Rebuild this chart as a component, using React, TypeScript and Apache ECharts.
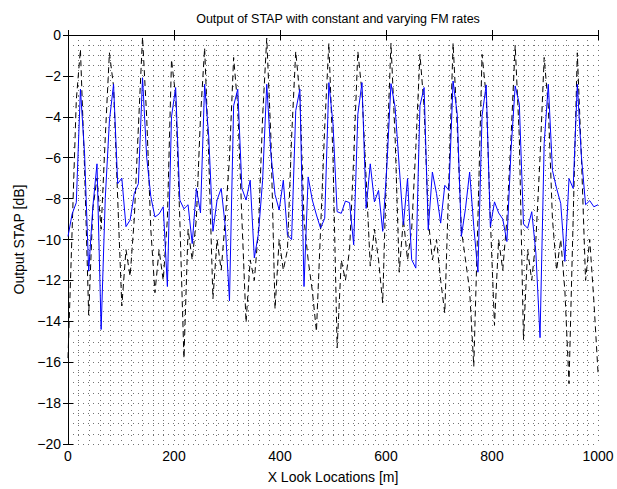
import React, { useEffect, useRef } from "react";
import * as echarts from "echarts";

// X look locations: 0..1000 m, evenly sampled
const xMin = 0;
const xMax = 1000;
const sampleCount = 129;

const xTickStep = 200;
const yTickStep = 2;
const yMin = -20;
const yMax = 0;

// Output STAP [dB], constant FM rate (black dashed)
const constantFmDb = [
  -15.8, -9.5, -3.2, -0.7, -6.5, -13.7, -8.5, -7.0, -9.5, -5.0,
  -0.87, -2.5, -8.0, -13.25, -10.5, -11.8, -9.0, -4.5, -0.1, -4.0,
  -9.5, -12.6, -10.5, -12.0, -9.0, -1.2, -3.0, -9.0, -15.8, -9.5,
  -11.0, -9.0, -4.0, -0.63, -6.0, -12.9, -10.0, -11.5, -9.0, -6.0,
  -1.1, -3.5, -9.0, -14.06, -11.0, -12.0, -9.5, -4.0, -0.15, -5.0,
  -13.4, -10.0, -11.5, -10.5, -5.0, -0.8, -3.0, -9.0, -11.0, -12.5,
  -14.5, -9.5, -4.5, -0.4, -6.0, -15.3, -11.0, -12.0, -10.5, -6.0,
  -0.8, -2.8, -7.0, -11.3, -9.5, -11.0, -13.1, -6.0, -0.4, -5.0,
  -11.6, -9.0, -11.0, -9.5, -5.5, -0.95, -3.5, -9.0, -11.0, -10.0,
  -12.0, -13.6, -7.0, -0.4, -4.5, -9.5, -11.0, -12.5, -16.2, -9.0,
  -0.95, -3.0, -9.0, -14.2, -10.0, -11.5, -9.0, -5.0, -0.5, -5.0,
  -14.9, -10.5, -12.0, -10.0, -6.0, -1.1, -3.5, -9.0, -11.5, -10.0,
  -12.5, -17.05, -9.0, -0.87, -6.0, -12.0, -10.0, -13.0, -16.5,
];

// Output STAP [dB], varying FM rate (blue solid)
const varyingFmDb = [
  -9.85, -8.75, -8.2, -2.65, -5.8, -11.55, -8.4, -6.3, -14.4, -8.0,
  -4.2, -2.41, -7.27, -7.0, -9.37, -9.05, -7.75, -7.27, -2.09, -5.97,
  -7.9, -8.9, -8.75, -8.4, -12.3, -4.0, -2.57, -8.07, -8.5, -8.3,
  -10.2, -7.5, -8.7, -2.41, -5.0, -9.6, -8.07, -7.5, -9.4, -13.0,
  -3.46, -2.65, -7.5, -8.07, -7.1, -10.9, -9.7, -7.1, -2.41, -5.8,
  -7.8, -8.56, -7.1, -9.77, -10.0, -3.7, -2.65, -12.3, -6.94, -8.07,
  -8.8, -9.45, -8.96, -2.33, -4.35, -8.64, -8.72, -8.12, -8.2, -10.26,
  -3.87, -2.33, -8.48, -6.3, -8.16, -7.6, -9.6, -6.46, -2.38, -3.54,
  -6.46, -9.29, -7.02, -10.99, -11.4, -3.46, -2.57, -9.53, -6.7, -7.75,
  -9.2, -7.35, -7.6, -2.25, -3.87, -9.85, -8.48, -6.7, -9.37, -11.6,
  -3.95, -2.44, -9.37, -8.16, -8.7, -9.0, -10.1, -5.6, -2.49, -3.38,
  -9.24, -9.45, -8.64, -10.66, -14.8, -5.3, -2.41, -6.62, -7.5, -8.24,
  -11.07, -7.02, -7.5, -2.41, -5.97, -8.3, -8.1, -8.4, -8.3,
];

const FONT = "'Liberation Sans', Arial, Helvetica, sans-serif";

const fmt = (v: number) => (v < 0 ? "\u2212" + Math.abs(v) : String(v));

export default function App() {
  const ref = useRef<HTMLDivElement>(null);

  useEffect(() => {
    if (!ref.current) return;
    const chart = echarts.init(ref.current, null, { renderer: "svg" });
    const xs = constantFmDb.map(
      (_, i) => xMin + (i * (xMax - xMin)) / (sampleCount - 1)
    );
    const gridDots = { color: "#000", width: 1, type: [1, 4] as any, opacity: 0.55 };
    const axisLine = { show: true, lineStyle: { color: "#000", width: 1 } };
    const tick = { show: true, inside: true, length: 5, lineStyle: { color: "#000", width: 1 } };
    const labelStyle = { fontFamily: FONT, fontSize: 14, color: "#000" };

    chart.setOption({
      animation: false,
      backgroundColor: "#fff",
      title: {
        text: "Output of STAP with constant and varying FM rates",
        left: 333,
        top: 7,
        textAlign: "center",
        textStyle: { fontFamily: FONT, fontSize: 12.5, fontWeight: "normal", color: "#000" },
      },
      grid: { left: 68, right: 19, top: 35, bottom: 42, containLabel: false },
      xAxis: [
        {
          type: "value",
          position: "bottom",
          min: xMin,
          max: xMax,
          interval: xTickStep,
          name: "X Look Locations [m]",
          nameLocation: "middle",
          nameGap: 26,
          nameTextStyle: labelStyle,
          axisLine,
          axisTick: tick,
          axisLabel: { ...labelStyle, margin: 5, formatter: fmt },
          splitLine: { show: true, lineStyle: gridDots },
          minorTick: { show: false, splitNumber: 10 },
          minorSplitLine: { show: true, lineStyle: gridDots },
        },
        {
          type: "value",
          position: "top",
          min: xMin,
          max: xMax,
          interval: xTickStep,
          axisLine,
          axisTick: tick,
          axisLabel: { show: false },
          splitLine: { show: false },
        },
      ],
      yAxis: [
        {
          type: "value",
          position: "left",
          min: yMin,
          max: yMax,
          interval: yTickStep,
          name: "Output STAP [dB]",
          nameLocation: "middle",
          nameGap: 34,
          nameTextStyle: labelStyle,
          axisLine,
          axisTick: tick,
          axisLabel: { ...labelStyle, margin: 7, formatter: fmt },
          splitLine: { show: true, lineStyle: gridDots },
          minorTick: { show: false, splitNumber: 4 },
          minorSplitLine: { show: true, lineStyle: gridDots },
        },
        {
          type: "value",
          position: "right",
          min: yMin,
          max: yMax,
          interval: yTickStep,
          axisLine,
          axisTick: tick,
          axisLabel: { show: false },
          splitLine: { show: false },
        },
      ],
      series: [
        {
          name: "Constant FM rate",
          type: "line",
          xAxisIndex: 0,
          yAxisIndex: 0,
          showSymbol: false,
          symbol: "none",
          lineStyle: { color: "#000", width: 1, type: [6, 4] as any },
          data: xs.map((x, i) => [x, constantFmDb[i]]),
          z: 2,
        },
        {
          name: "Varying FM rate",
          type: "line",
          xAxisIndex: 0,
          yAxisIndex: 0,
          showSymbol: false,
          symbol: "none",
          lineStyle: { color: "#0000ff", width: 1 },
          data: xs.map((x, i) => [x, varyingFmDb[i]]),
          z: 3,
        },
      ],
    });
    return () => chart.dispose();
  }, []);

  return (
    <div
      ref={ref}
      style={{ position: "fixed", left: 0, top: 0, width: 617, height: 489, background: "#fff" }}
    />
  );
}
